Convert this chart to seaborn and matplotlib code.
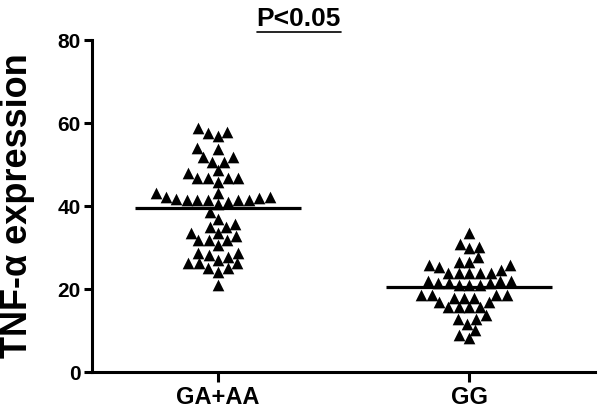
import numpy as np
import pandas as pd
import seaborn as sns
import matplotlib.pyplot as plt
from matplotlib.lines import Line2D

# values
groups = ['GA+AA', 'GG']

ga_aa = [58.7, 57.7, 56.9, 57.9,
         53.9, 53.7, 51.9, 50.7, 50.7, 51.9,
         47.9, 48.7, 46.7, 46.7, 45.9, 46.7, 46.7,
         41.0, 41.4, 41.5, 43.1, 41.9, 42.1, 40.6, 42.1, 41.4, 41.5, 43.1, 41.6, 41.4,
         38.6,
         37.0, 35.0, 35.8, 35.0, 33.4, 32.8, 33.6, 31.8, 31.8, 31.8, 30.6, 28.6,
         28.6, 27.0, 26.2, 25.0, 26.2, 26.2, 24.2, 27.8, 25.0, 28.2, 21.0]

gg = [33.4,
      30.2, 29.8, 30.8,
      26.6, 27.8, 25.8, 25.8, 26.6,
      24.6, 23.9, 23.9, 23.8, 23.9, 23.9, 25.4,
      22.0, 21.5, 21.0, 21.5, 22.0, 21.0, 21.5, 22.0, 21.0,
      18.6, 15.7, 18.6, 15.7, 17.8, 16.9, 17.8, 16.9, 17.8, 18.6, 15.7, 18.6, 15.7,
      12.9, 12.9, 13.7, 11.7, 10.1, 8.1, 8.9]

y_ticks = [0, 20, 40, 60, 80]
title_text = 'P<0.05'
y_label = 'TNF-\u03b1 expression'

df = pd.DataFrame({
    'group': [groups[0]] * len(ga_aa) + [groups[1]] * len(gg),
    'value': ga_aa + gg,
})

sns.set_style('ticks', {'axes.edgecolor': 'black', 'text.color': 'black',
                        'xtick.color': 'black', 'ytick.color': 'black',
                        'axes.labelcolor': 'black'})
plt.rcParams['font.family'] = ['Liberation Sans', 'DejaVu Sans']
plt.rcParams['font.weight'] = 'bold'

fig = plt.figure(figsize=(6, 4.13), dpi=100)
ax = fig.add_axes([0.153, 0.099, 0.839, 0.804])

# swarm laid out with a slightly smaller marker so the triangles overlap a little
sns.swarmplot(data=df, x='group', y='value', order=groups, marker='^',
              color='black', size=7.2, linewidth=0, ax=ax)
ax.set_xlim(-0.5, 1.5)
ax.set_ylim(0, 80)
fig.canvas.draw()
for coll in ax.collections:
    # keep the swarm layout from the first draw, then enlarge the triangles
    if 'draw' in coll.__dict__:
        del coll.draw
    coll.set_sizes([8.4 ** 2])

# mean lines
means = df.groupby('group')['value'].mean()
for i, g in enumerate(groups):
    ax.hlines(means[g], i - 0.33, i + 0.33, color='black', linewidth=2.3, zorder=5)

ax.set_yticks(y_ticks)
ax.set_xlabel('')
ax.set_ylabel(y_label, fontsize=26, fontweight='bold')
ax.yaxis.set_label_coords(-0.112, 0.5)

for side in ['top', 'right']:
    ax.spines[side].set_visible(False)
for side in ['left', 'bottom']:
    ax.spines[side].set_linewidth(2.2)
ax.tick_params(axis='y', length=6, width=2.2, labelsize=15, pad=2)
ax.tick_params(axis='x', length=7, width=2.2, labelsize=17, pad=3)
for lab in ax.get_xticklabels() + ax.get_yticklabels():
    lab.set_fontweight('bold')

# underlined title
t = fig.text(0.498, 0.955, title_text, ha='center', va='center', fontsize=19, fontweight='bold')
fig.canvas.draw()
bb = t.get_window_extent().transformed(fig.transFigure.inverted())
fig.add_artist(Line2D([bb.x0, bb.x1], [bb.y0 - 0.004, bb.y0 - 0.004], color='black', linewidth=1.2))

fig.savefig('out.png', dpi=100)
